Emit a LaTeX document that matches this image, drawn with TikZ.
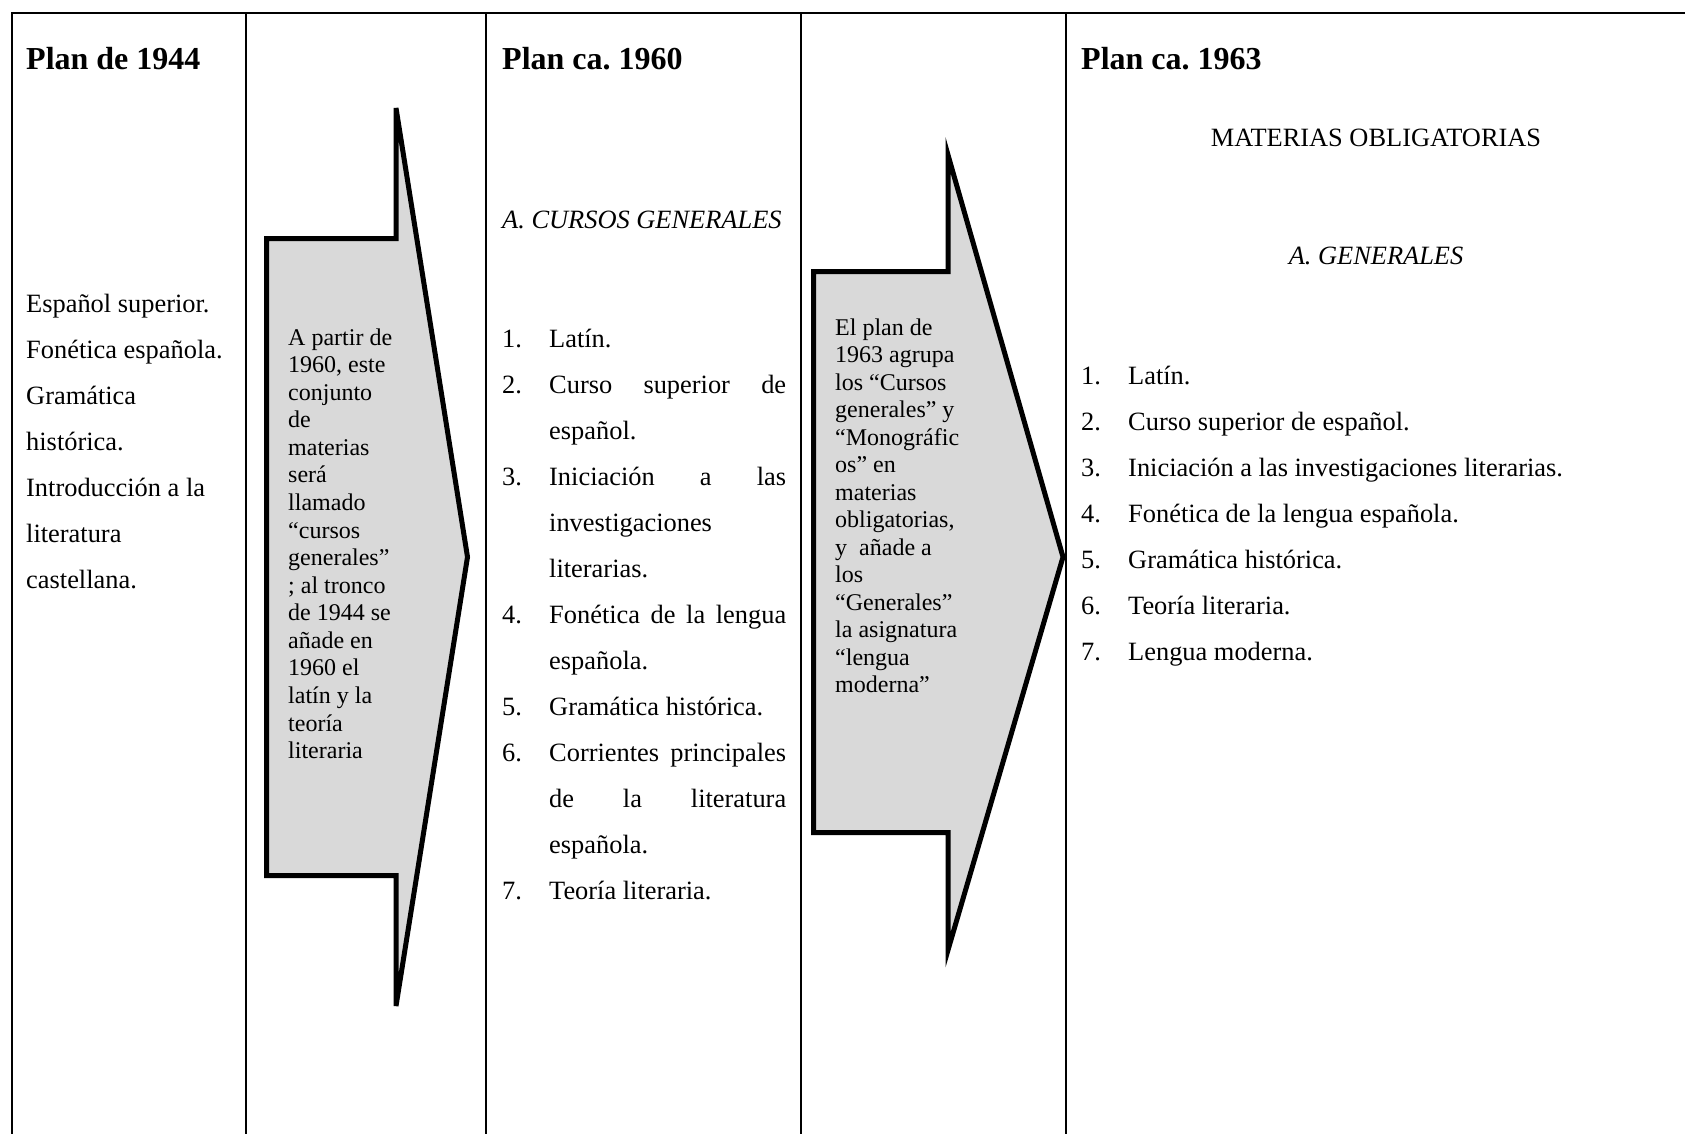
\documentclass[tikz,border=0pt]{standalone}
\usepackage{fontspec}
\setmainfont{Liberation Serif}
\definecolor{arrowgrey}{HTML}{D9D9D9}
\frenchspacing
\begin{document}
\begin{tikzpicture}[x=1pt,y=-1pt,
  gridline/.style={line width=2pt, line cap=rect},
  arrowshape/.style={draw=black, line width=5pt, fill=arrowgrey, line join=miter},
  body/.style={font=\fontsize{26.4}{30}\selectfont, anchor=base west, inner sep=0pt},
  centred/.style={font=\fontsize{26.4}{30}\selectfont, anchor=base, inner sep=0pt},
  atext/.style={font=\fontsize{24}{27}\selectfont, anchor=base west, inner sep=0pt},
  titletext/.style={font=\bfseries\fontsize{32}{36}\selectfont, anchor=base west, inner sep=0pt}]
\useasboundingbox (0,0) rectangle (1685,1133);
\fill[white] (0,0) rectangle (1685,1133);

% table lines
\draw[gridline] (12,1133) -- (12,12.5) -- (1685,12.5);
\foreach \x in {245.5,486,801,1066}
  \draw[gridline] (\x,12.5) -- (\x,1133);

% arrows
\draw[arrowshape] (266.5,238.5) -- (396,238.5) -- (396,108) -- (467.5,557) -- (396,1006) -- (396,875.5) -- (266.5,875.5) -- cycle;
\draw[arrowshape] (813.5,271.5) -- (948,271.5) -- (948,155) -- (1063,557) -- (948,950) -- (948,832.5) -- (813.5,832.5) -- cycle;

% titles
\node[titletext] (t1) at (26,69) {Plan de 1944};
\node[titletext] (t3) at (502,69) {Plan ca. 1960};
\node[titletext] (t5) at (1081,69) {Plan ca. 1963};

% column 1
\foreach [count=\i from 0] \t in {Español superior., Fonética española., Gramática, histórica., Introducción a la, literatura, castellana.}
  \node[body] (c1-\i) at (26,312+46*\i) {\t};

% column 3
\node[body, font=\itshape\fontsize{26.4}{30}\selectfont] (c3h) at (502,228) {A. CURSOS GENERALES};
\foreach \n/\l in {1/0,2/1,3/3,4/6,5/8,6/9,7/12}
  \node[body] (c3n-\n) at (502,347+46*\l) {\n.};
\foreach [count=\i from 0] \t in {Latín., {\makebox[237pt][s]{Curso superior de}}, español., {\makebox[237pt][s]{Iniciación a las}}, investigaciones, literarias., {\makebox[237pt][s]{Fonética de la lengua}}, española., Gramática histórica., {\makebox[237pt][s]{Corrientes principales}}, {\makebox[237pt][s]{de la literatura}}, española., Teoría literaria.}
  \node[body] (c3-\i) at (549,347+46*\i) {\t};

% column 5
\node[centred] (c5h) at (1376,146) {MATERIAS OBLIGATORIAS};
\node[centred, font=\itshape\fontsize{26.4}{30}\selectfont] (c5s) at (1376,264.5) {A. GENERALES};
\foreach [count=\i from 0] \t in {Latín., Curso superior de español., Iniciación a las investigaciones literarias., Fonética de la lengua española., Gramática histórica., Teoría literaria., Lengua moderna.}
  {
  \node[body] (c5n-\i) at (1081,384+46*\i) {\pgfmathparse{int(\i+1)}\pgfmathresult.};
  \node[body] (c5-\i) at (1128,384+46*\i) {\t};
  }

% arrow 1 text
\foreach [count=\i from 0] \t in {A partir de, {1960, este}, conjunto, de, materias, será, llamado, “cursos, generales”, ; al tronco, de 1944 se, añade en, 1960 el, latín y la, teoría, literaria}
  \node[atext] (a1-\i) at (288,345+27.58*\i) {\t};

% arrow 2 text
\foreach [count=\i from 0] \t in {El plan de, 1963 agrupa, los “Cursos, generales” y, “Monográfic, os” en, materias, {obligatorias,}, {y\ \ añade a}, los, “Generales”, la asignatura, “lengua, moderna”}
  \node[atext] (a2-\i) at (835,335+27.5*\i) {\t};
\end{tikzpicture}
\end{document}
